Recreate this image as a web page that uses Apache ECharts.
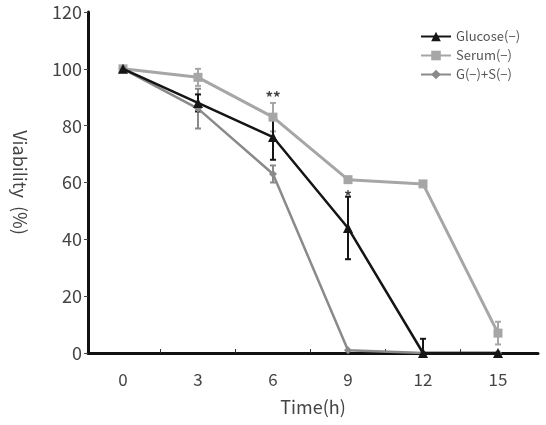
<!DOCTYPE html>
<html>
<head>
<meta charset="utf-8">
<script src="https://cdn.jsdelivr.net/npm/echarts@6/dist/echarts.min.js"></script>
<style>
  html, body { margin: 0; padding: 0; background: #fff; }
  #chart { width: 546px; height: 425px; }
</style>
</head>
<body>
<div id="chart"></div>
<script>
// values
var times = [0, 3, 6, 9, 12, 15]
var glucose = [100, 88, 76, 44, 0, 0]
var glucoseErr = [1, 3, 8, 11, 5, 0]
var serum = [100, 97, 83, 61, 59.5, 7]
var serumErr = [1, 3, 5, 0, 0, 4]
var gs = [100, 86, 63, 1, 0, 0]
var gsErr = [1, 7, 3, 0, 0, 0]
var xLabels = [0, 3, 6, 9, 12, 15]
var xMinorTicks = [1.5, 4.5, 7.5, 10.5, 13.5]
var starX = [6, 9]
var starY = [90, 55]
var starText = ['**', '*']

var font = 'Noto Sans CJK KR'
var black = '#151515'
var light = '#a6a6a6'
var mid = '#8a8a8a'

function pairs(ys) {
  return times.map(function (t, i) { return [t, ys[i]] })
}
function errData(ys, es) {
  return times.map(function (t, i) { return [t, ys[i], es[i]] })
}
function errSeries(ys, es, color) {
  return {
    type: 'custom',
    silent: true,
    z: 1,
    data: errData(ys, es),
    renderItem: function (params, api) {
      var x = api.value(0), y = api.value(1), e = api.value(2)
      if (!e) return null
      var top = api.coord([x, y + e])
      var bot = api.coord([x, Math.max(0, y - e)])
      var w = 3
      var st = { stroke: color, lineWidth: 2 }
      return {
        type: 'group',
        children: [
          { type: 'line', shape: { x1: top[0], y1: top[1], x2: bot[0], y2: bot[1] }, style: st },
          { type: 'line', shape: { x1: top[0] - w, y1: top[1], x2: top[0] + w, y2: top[1] }, style: st },
          { type: 'line', shape: { x1: bot[0] - w, y1: bot[1], x2: bot[0] + w, y2: bot[1] }, style: st }
        ]
      }
    }
  }
}

var chart = echarts.init(document.getElementById('chart'))

var option = {
  animation: false,
  backgroundColor: '#fff',
  grid: { left: 88, right: 8, top: 12, bottom: 72 },
  legend: {
    orient: 'vertical',
    left: 415,
    top: 25,
    itemWidth: 30,
    itemHeight: 12,
    itemGap: 6,
    textStyle: { fontFamily: font, fontSize: 13, color: '#555' },
    data: ['Glucose(−)', 'Serum(−)', 'G(−)+S(−)']
  },
  xAxis: {
    type: 'value',
    min: -1.4,
    max: 16.6,
    name: 'Time(h)',
    nameLocation: 'middle',
    nameGap: 45,
    nameTextStyle: { fontFamily: font, fontSize: 18, color: '#444' },
    axisLine: { onZero: false, lineStyle: { color: '#111', width: 3 } },
    axisTick: { show: true, inside: true, length: 4, customValues: xMinorTicks, lineStyle: { color: '#333', width: 1 } },
    axisLabel: { customValues: xLabels, fontFamily: font, fontSize: 17, color: '#444', margin: 18 },
    splitLine: { show: false }
  },
  yAxis: {
    type: 'value',
    min: 0,
    max: 120,
    interval: 20,
    name: 'Viability  (%)',
    nameLocation: 'middle',
    nameRotate: -90,
    nameGap: 59,
    nameTextStyle: { fontFamily: font, fontSize: 18, color: '#444' },
    axisLine: { show: true, onZero: false, lineStyle: { color: '#111', width: 3 } },
    axisTick: { show: true, length: 4, lineStyle: { color: '#444', width: 1 } },
    axisLabel: { fontFamily: font, fontSize: 18, color: '#444', margin: 6 },
    splitLine: { show: false }
  },
  series: [
    errSeries(serum, serumErr, light),
    errSeries(gs, gsErr, mid),
    errSeries(glucose, glucoseErr, black),
    {
      name: 'Serum(−)',
      type: 'line',
      z: 2,
      data: pairs(serum),
      symbol: 'rect',
      symbolSize: 9,
      itemStyle: { color: light },
      lineStyle: { color: light, width: 3 }
    },
    {
      name: 'G(−)+S(−)',
      type: 'line',
      z: 3,
      data: pairs(gs),
      symbol: 'diamond',
      symbolSize: 8,
      itemStyle: { color: mid },
      lineStyle: { color: mid, width: 2.5 }
    },
    {
      name: 'Glucose(−)',
      type: 'line',
      z: 4,
      data: pairs(glucose),
      symbol: 'triangle',
      symbolSize: 10,
      itemStyle: { color: black },
      lineStyle: { color: black, width: 2.5 }
    },
    {
      type: 'scatter',
      silent: true,
      z: 5,
      symbolSize: 0,
      data: starX.map(function (x, i) { return [x, starY[i], starText[i]] }),
      label: {
        show: true,
        position: 'inside',
        fontFamily: font,
        fontSize: 15,
        fontWeight: 'bold',
        color: '#111',
        formatter: function (p) { return p.value[2] }
      }
    }
  ]
}

chart.setOption(option)
</script>
</body>
</html>
